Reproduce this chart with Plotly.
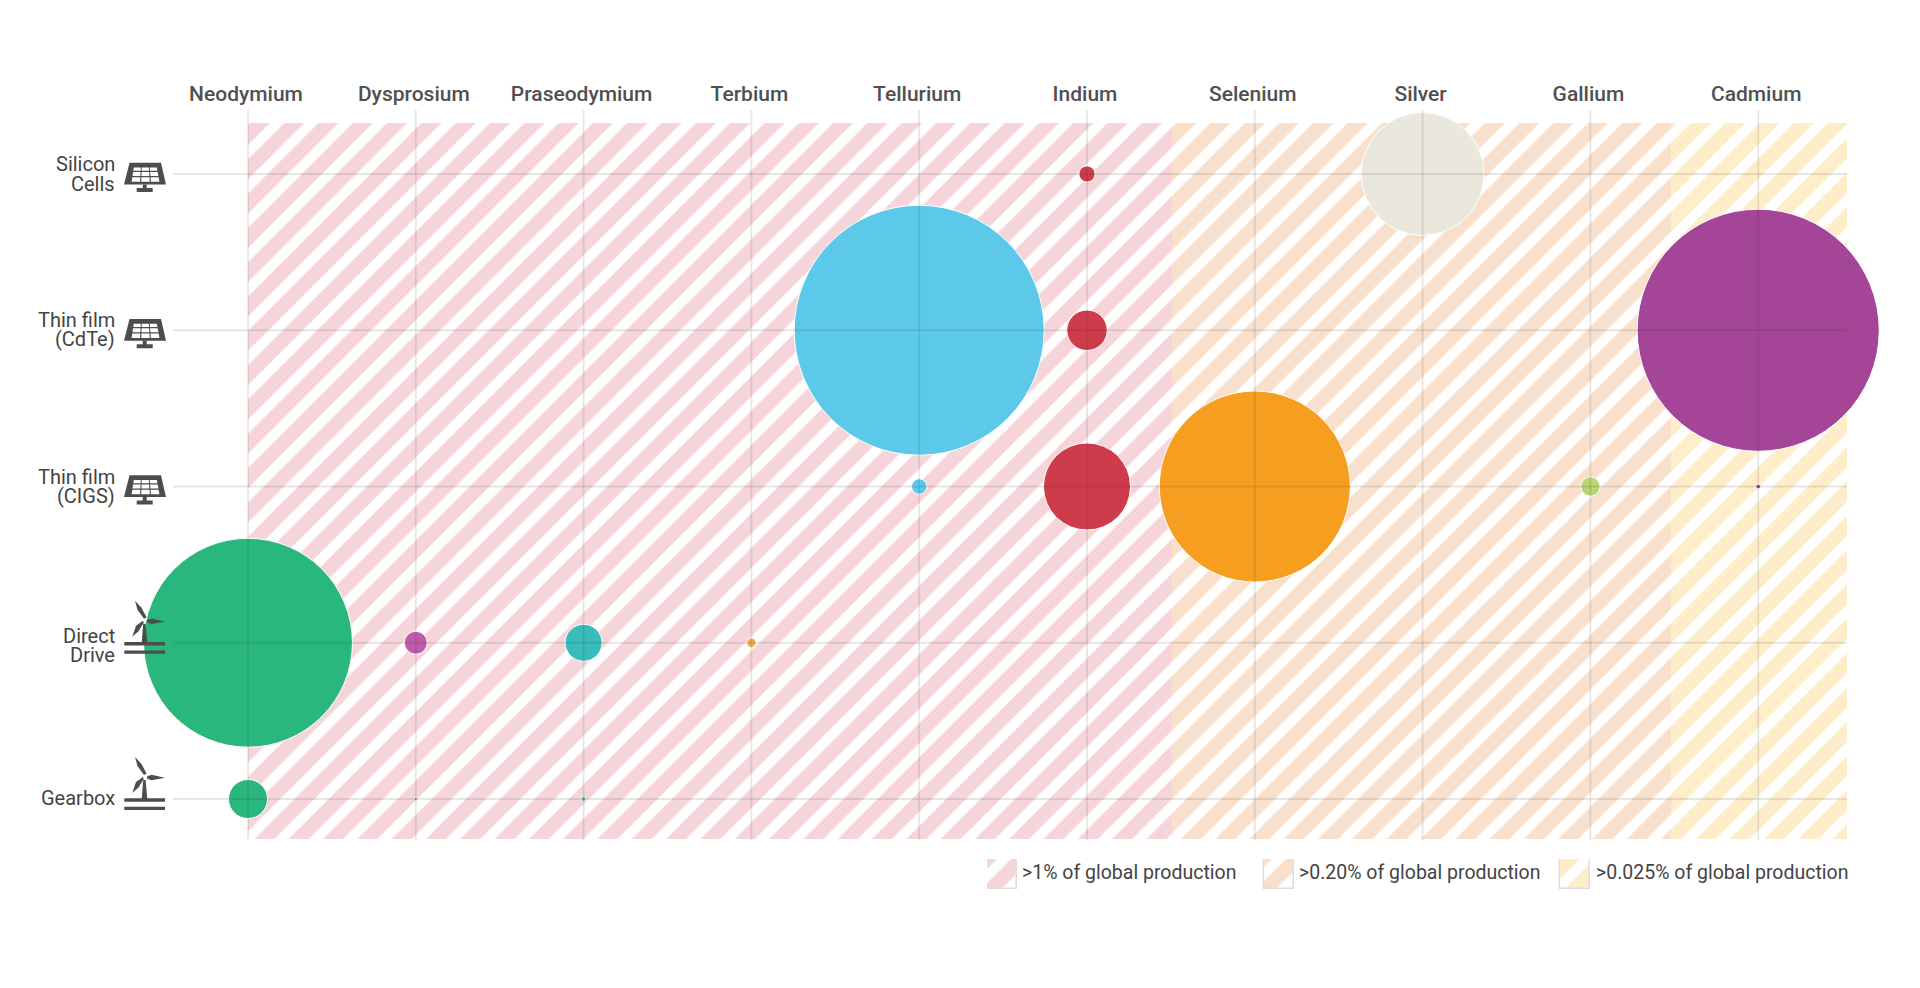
import plotly.graph_objects as go

# ---------- data ----------
elements = ["Neodymium", "Dysprosium", "Praseodymium", "Terbium", "Tellurium",
            "Indium", "Selenium", "Silver", "Gallium", "Cadmium"]
technologies = ["Gearbox", "Direct<br>Drive", "Thin film<br>(CIGS)", "Thin film<br>(CdTe)", "Silicon<br>Cells"]
element_colors = ["#2AB77E", "#C05AA8", "#38BCBC", "#F5B04E", "#5CC9EB",
                  "#CE3B4A", "#F69E1F", "#EAE7DD", "#B7D773", "#A44598"]

point_element = [0, 0, 1, 1, 2, 2, 3, 4, 4, 5, 5, 5, 6, 7, 8, 9, 9]
point_tech = [0, 1, 0, 1, 0, 1, 1, 2, 3, 2, 3, 4, 2, 4, 2, 2, 3]
point_value = [1.22, 34.9, 0.008, 0.42, 0.018, 1.095, 0.07, 0.19, 50.0,
               6.06, 1.31, 0.21, 29.2, 12.1, 0.30, 0.018, 46.9]

band_labels = [">1% of global production", ">0.20% of global production", ">0.025% of global production"]
band_start = [0.0, 5.507, 8.48]
band_end = [5.507, 8.48, 9.529]
band_colors = ["#F5D5D9", "#F9E0CC", "#FEEDC9"]

# ---------- geometry ----------
W, H = 1920, 988
L, R, T, B = 170, 1847, 110, 840
LINE_LEFT = 173
X0, DX = 248.0, 167.8
Y0, DY = 799.0, 156.25
HATCH = 24.26
SOLID = 0.58
xr = [(L - X0) / DX, (R - X0) / DX]
yr = [(Y0 - B) / DY, (Y0 - T) / DY]
def x_data(p): return (p - X0) / DX
def y_data(p): return (Y0 - p) / DY
def px(p): return p / W
def py(p): return 1 - p / H

fig = go.Figure()

# hatched bands
for s, e, c in zip(band_start, band_end, band_colors):
    fig.add_trace(go.Bar(
        x=[(s + e) / 2], width=[e - s], y=[y_data(123) - y_data(839)], base=[y_data(839)],
        marker=dict(color="white", line=dict(width=0),
                    pattern=dict(shape="/", fgcolor=c, fgopacity=1, bgcolor="white", size=HATCH, solidity=SOLID)),
        hoverinfo="skip", showlegend=False, cliponaxis=False))

# legend swatches, on their own small axes measured in pixels
swatch_left = [987, 1264, 1560]
text_left = [1020, 1297, 1594]
SW_L, SW_R, SW_T, SW_B = 987, 1590, 859, 889
for sl, c in zip(swatch_left, band_colors):
    fig.add_trace(go.Bar(
        x=[sl - SW_L + 15], width=[30], y=[30], base=[0], xaxis="x2", yaxis="y2",
        marker=dict(color="white", line=dict(width=1.5, color="#DDDDDD"),
                    pattern=dict(shape="/", fgcolor=c, fgopacity=1, bgcolor="white", size=HATCH, solidity=SOLID)),
        hoverinfo="skip", showlegend=False, cliponaxis=False))

# bubbles
fig.add_trace(go.Scatter(
    x=point_element, y=point_tech, mode="markers",
    marker=dict(size=point_value, sizemode="area", sizeref=0.0016, sizemin=0,
                color=[element_colors[i] for i in point_element],
                line=dict(width=1, color="white"), opacity=1),
    showlegend=False, cliponaxis=False,
    text=[f"{elements[e]} / {technologies[t].replace('<br>', ' ')}" for e, t in zip(point_element, point_tech)],
    hoverinfo="text"))

# grid lines over the bubbles
gx, gy = [], []
for i in range(len(elements)):
    gx += [i, i, None]; gy += [yr[0], yr[1], None]
for j in range(len(technologies)):
    gx += [x_data(LINE_LEFT), xr[1], None]; gy += [j, j, None]
fig.add_trace(go.Scatter(x=gx, y=gy, mode="lines", line=dict(color="rgba(50,50,50,0.12)", width=1.8),
                         hoverinfo="skip", showlegend=False))

# ---------- icons ----------
INK = "#4D4D4D"
def poly(points):
    return "M" + "L".join(f"{px(a):.5f},{py(b):.5f}" for a, b in points) + "Z"

shapes = []
def add(path, color):
    shapes.append(dict(type="path", xref="paper", yref="paper", path=path,
                       fillcolor=color, line=dict(width=0), layer="above"))

def panel(cy):
    add(poly([(129.5, cy - 11.3), (161, cy - 11.3), (166, cy + 10.5), (124, cy + 10.5)]), INK)
    add(poly([(142.7, cy + 10.5), (146.7, cy + 10.5), (146.7, cy + 14), (152.7, cy + 14), (152.7, cy + 18),
              (136.7, cy + 18), (136.7, cy + 14), (142.7, cy + 14)]), INK)
    rows = [(cy - 6.5, cy - 3.3), (cy - 2, cy + 2), (cy + 3.3, cy + 7.7)]
    def xat(y, f):
        ratio = (y - (cy - 6.5)) / 14.2
        left = 133.3 - 2.3 * ratio
        right = 157.3 + 2.7 * ratio
        return left + (right - left) * f
    for (a, b) in rows:
        for k in range(3):
            f0 = k / 3 + 0.02
            f1 = (k + 1) / 3 - 0.02
            add(poly([(xat(a, f0), a), (xat(a, f1), a), (xat(b, f1), b), (xat(b, f0), b)]), "white")

def turbine(cy):
    add(poly([(143.2, cy - 19), (145.6, cy - 19), (147.3, cy), (141.7, cy)]), INK)
    add(poly([(124.3, cy - 0.7), (165, cy - 0.7), (165, cy + 2.7), (124.3, cy + 2.7)]), INK)
    add(poly([(124.3, cy + 7.7), (165, cy + 7.7), (165, cy + 11), (124.3, cy + 11)]), INK)
    add(poly([(135, cy - 42), (141.5, cy - 35), (146.5, cy - 25.5), (144, cy - 24), (137.5, cy - 33)]), INK)
    add(poly([(147, cy - 22.5), (151.5, cy - 24.2), (165, cy - 21.3), (151.5, cy - 18.8), (147, cy - 20.5)]), INK)
    add(poly([(143, cy - 22), (143.7, cy - 20), (138.5, cy - 11.5), (132.3, cy - 6), (136, cy - 17)]), INK)

row_y = [Y0 - DY * i for i in range(5)]
panel(row_y[4]); panel(row_y[3]); panel(row_y[2])
turbine(row_y[1]); turbine(row_y[0])

# legend text
annotations = [dict(x=px(tl), y=py(872), xref="paper", yref="paper", text=lab, showarrow=False,
                    xanchor="left", yanchor="middle", font=dict(family="Roboto", size=19.5, color="#444444"))
               for tl, lab in zip(text_left, band_labels)]

# row labels: one annotation per line so that the lines sit closer than a tick label's would
LINE = 19.5
label_nudge = [-1, 2.5, 0, -1, 0]
for j, tech in enumerate(technologies):
    lines = tech.split("<br>")
    for n, txt in enumerate(lines):
        yy = row_y[j] + label_nudge[j] + (n - (len(lines) - 1) / 2) * LINE
        annotations.append(dict(x=px(117), y=py(yy), xref="paper", yref="paper", text=txt, showarrow=False,
                                xanchor="right", yanchor="middle",
                                font=dict(family="Roboto", size=20, color="#444444")))

fig.update_layout(
    width=W, height=H, paper_bgcolor="white", plot_bgcolor="rgba(0,0,0,0)",
    margin=dict(l=0, r=0, t=0, b=0, pad=0),
    barmode="overlay", bargap=0, shapes=shapes, annotations=annotations,
    font=dict(family="Roboto", color="#444444"), showlegend=False, hovermode="closest",
    xaxis=dict(domain=[L / W, R / W], range=xr, side="top", anchor="y", showgrid=False, zeroline=False,
               showline=False, ticks="",
               tickmode="array", tickvals=list(range(len(elements))), ticktext=elements,
               tickfont=dict(family="Roboto", size=21, color="#505050", weight=500),
               ticklabelstandoff=4, ticklabelshift=-2),
    yaxis=dict(domain=[1 - B / H, 1 - T / H], range=yr, anchor="x", showgrid=False, zeroline=False,
               showline=False, ticks="", showticklabels=False),
    xaxis2=dict(domain=[SW_L / W, SW_R / W], range=[0, SW_R - SW_L], anchor="y2", visible=False),
    yaxis2=dict(domain=[1 - SW_B / H, 1 - SW_T / H], range=[0, SW_B - SW_T], anchor="x2", visible=False),
)

fig.write_html("out.html", config={"displayModeBar": False}, post_script="document.body.style.margin='0';")
